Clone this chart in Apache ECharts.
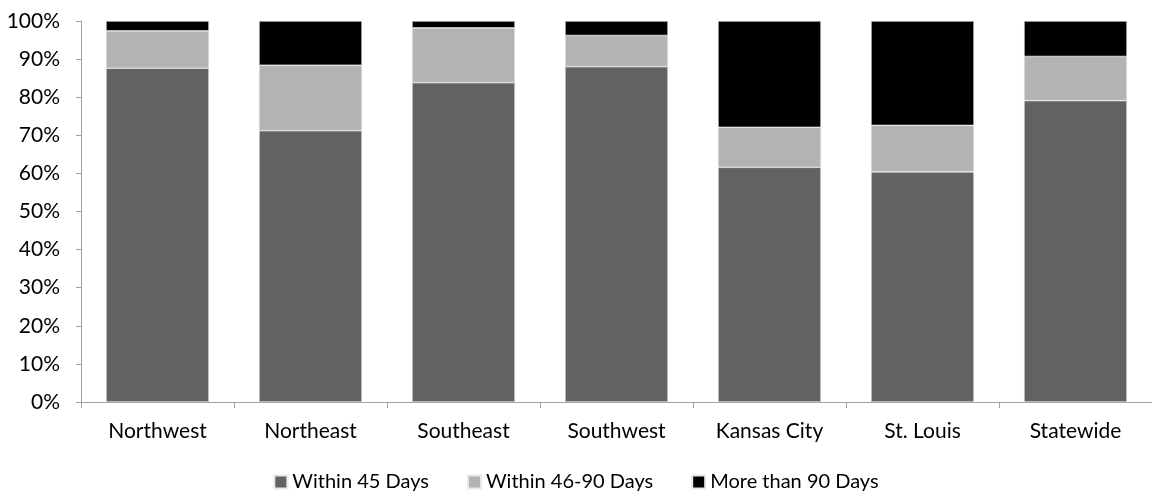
<!DOCTYPE html>
<html>
<head>
<meta charset="utf-8">
<script src="https://cdn.jsdelivr.net/npm/echarts@6/dist/echarts.min.js"></script>
<style>
html,body{margin:0;padding:0;background:#fff;}
#chart{width:1152px;height:491px;}
</style>
</head>
<body>
<div id="chart"></div>
<script>
var categories = ["Northwest", "Northeast", "Southeast", "Southwest", "Kansas City", "St. Louis", "Statewide"];
var within45 = [87.6, 71.2, 83.8, 88.0, 61.6, 60.4, 79.1];
var within46to90 = [9.8, 17.2, 14.4, 8.2, 10.5, 12.2, 11.6];
var moreThan90 = [2.6, 11.6, 1.8, 3.8, 27.9, 27.4, 9.3];
var seriesNames = ["Within 45 Days", "Within 46-90 Days", "More than 90 Days"];
var yTicks = [0, 10, 20, 30, 40, 50, 60, 70, 80, 90, 100];

var FONT = "Lato";
var chart = echarts.init(document.getElementById('chart'));
function mk(name, data, color) {
  return {
    name: name, type: 'bar', stack: 'total', data: data,
    barWidth: 103,
    itemStyle: { color: color, borderColor: '#e8e8e8', borderWidth: 0.6 },
    emphasis: { disabled: true }
  };
}
chart.setOption({
  animation: false,
  textStyle: { fontFamily: FONT },
  grid: { left: 81, top: 21, width: 1077, height: 381 },
  legend: {
    top: 467,
    left: 'center',
    itemWidth: 13, itemHeight: 13, itemGap: 38,
    icon: 'rect',
    textStyle: { fontFamily: FONT, fontSize: 20, color: '#000' },
    data: seriesNames
  },
  xAxis: {
    type: 'category',
    data: categories,
    axisLine: { lineStyle: { color: '#a0a0a0', width: 1 } },
    axisTick: { show: true, length: 6, lineStyle: { color: '#a0a0a0' } },
    axisLabel: { fontFamily: FONT, fontSize: 21, color: '#000', margin: 19 }
  },
  yAxis: {
    type: 'value', min: 0, max: 100, interval: 10,
    axisLine: { show: true, lineStyle: { color: '#a0a0a0', width: 1 } },
    axisTick: { show: true, length: 5, lineStyle: { color: '#a0a0a0' } },
    splitLine: { show: false },
    axisLabel: {
      fontFamily: FONT, fontSize: 21, color: '#000', margin: 21,
      formatter: function (v) { return yTicks.indexOf(v) >= 0 ? v + '%' : ''; }
    }
  },
  series: [
    mk(seriesNames[0], within45, '#626262'),
    mk(seriesNames[1], within46to90, '#b3b3b3'),
    mk(seriesNames[2], moreThan90, '#000000')
  ]
});
</script>
</body>
</html>
